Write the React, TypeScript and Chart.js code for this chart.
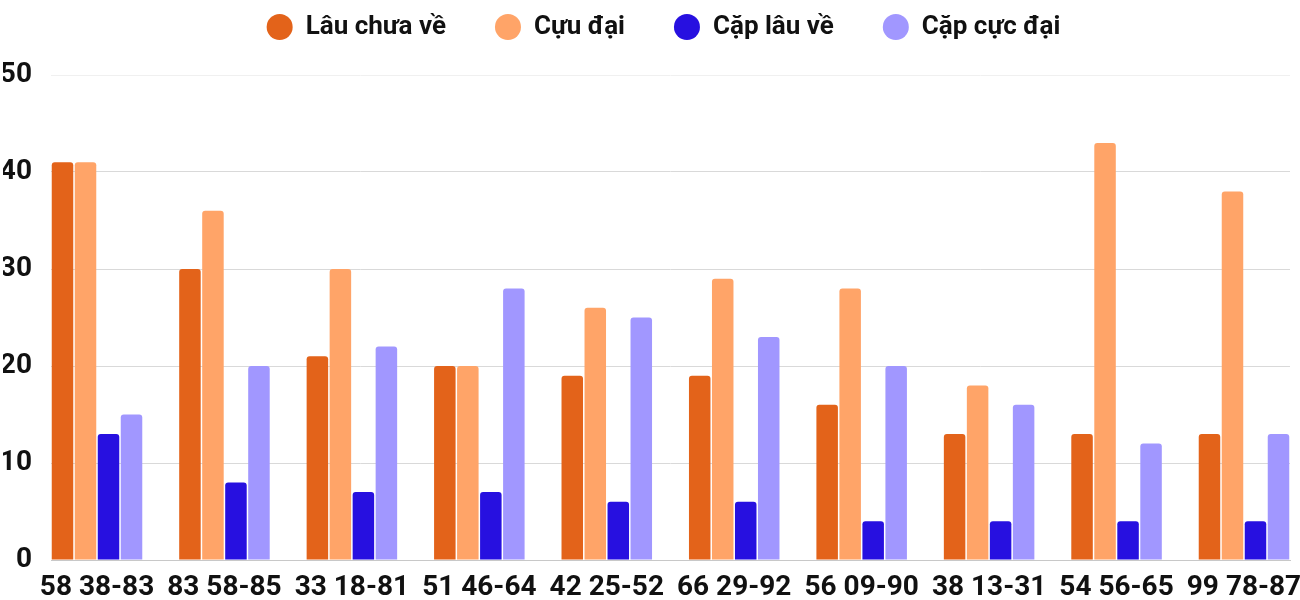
import { useEffect, useRef } from 'react';
import Chart from 'chart.js/auto';

const categories = ['58 38-83', '83 58-85', '33 18-81', '51 46-64', '42 25-52', '66 29-92', '56 09-90', '38 13-31', '54 56-65', '99 78-87'];
const lauChuaVe = [41, 30, 21, 20, 19, 19, 16, 13, 13, 13];
const cucDai = [41, 36, 30, 20, 26, 29, 28, 18, 43, 38];
const capLauVe = [13, 8, 7, 7, 6, 6, 4, 4, 4, 4];
const capCucDai = [15, 20, 22, 28, 25, 23, 20, 16, 12, 13];
const yMax = 50;
const yStep = 10;

const CATEGORY_PERCENT = 0.722;

// the legend leaves room above the plot and sits a bit right of centre
const legendSpacing = {
	id: 'legendSpacing',
	beforeInit(chart: any) {
		const originalFit = chart.legend.fit;
		chart.legend.fit = function fit() {
			originalFit.bind(chart.legend)();
			this.height = 110;
		};
	},
	afterLayout(chart: any) {
		chart.legend.left += 17;
		chart.legend.right += 17;
	},
};

function toPoints(values: number[]) {
	return values.map((v, i) => ({ x: i, y: v }));
}

function App() {
	const chartRef = useRef<HTMLCanvasElement | null>(null);

	useEffect(() => {
		if (!chartRef.current) return;

		const chart = new Chart(chartRef.current, {
			type: 'bar',
			data: {
				datasets: [
					{ label: 'Lâu chưa về', data: toPoints(lauChuaVe), backgroundColor: '#e3631a' },
					{ label: 'Cựu đại', data: toPoints(cucDai), backgroundColor: '#ffa468' },
					{ label: 'Cặp lâu về', data: toPoints(capLauVe), backgroundColor: '#2710e0' },
					{ label: 'Cặp cực đại', data: toPoints(capCucDai), backgroundColor: '#a197ff' },
				],
			},
			options: {
				animation: false,
				responsive: true,
				maintainAspectRatio: false,
				layout: {
					autoPadding: false,
					padding: { top: -35, left: 3, right: 10, bottom: 0 },
				},
				datasets: {
					bar: {
						categoryPercentage: CATEGORY_PERCENT,
						barPercentage: 0.935,
						borderRadius: 3,
						borderWidth: 0,
					},
				},
				plugins: {
					legend: {
						position: 'top',
						labels: {
							usePointStyle: true,
							pointStyle: 'circle',
							boxHeight: 18.4,
							padding: 49,
							color: '#111',
							font: { family: 'Roboto', size: 26, weight: 'bold' },
						},
					},
					tooltip: { enabled: false },
				},
				scales: {
					x: {
						type: 'linear',
						offset: false,
						min: -CATEGORY_PERCENT / 2,
						max: categories.length - 1 + CATEGORY_PERCENT / 2,
						grid: { display: false },
						border: { display: true, color: '#c8c8c8', width: 1 },
						afterFit: (scale: any) => {
							scale.height = 40;
							scale.paddingLeft = 0;
							scale.paddingRight = 0;
						},
						ticks: {
							stepSize: 1,
							includeBounds: false,
							autoSkip: false,
							maxRotation: 0,
							padding: 3,
							color: '#111',
							font: { family: 'Roboto', size: 28, weight: 'bold' },
							callback: (value: any) => categories[value] ?? '',
						},
					},
					y: {
						min: 0,
						max: yMax,
						border: { display: false },
						grid: {
							drawTicks: false,
							color: (ctx: any) => (ctx.tick && ctx.tick.value === yMax ? '#f0f0f0' : '#d9d9d9'),
						},
						afterFit: (scale: any) => {
							scale.width = 48;
						},
						ticks: {
							stepSize: yStep,
							padding: 19,
							color: '#111',
							font: { family: 'Roboto', size: 28, weight: 'bold' },
						},
					},
				},
			},
			plugins: [legendSpacing],
		});

		return () => {
			chart.destroy();
		};
	}, []);

	return (
		<div style={{ position: 'absolute', left: 0, top: 0, width: '1300px', height: '600px', background: '#fff' }}>
			<canvas ref={chartRef}></canvas>
		</div>
	);
}

export default App;
